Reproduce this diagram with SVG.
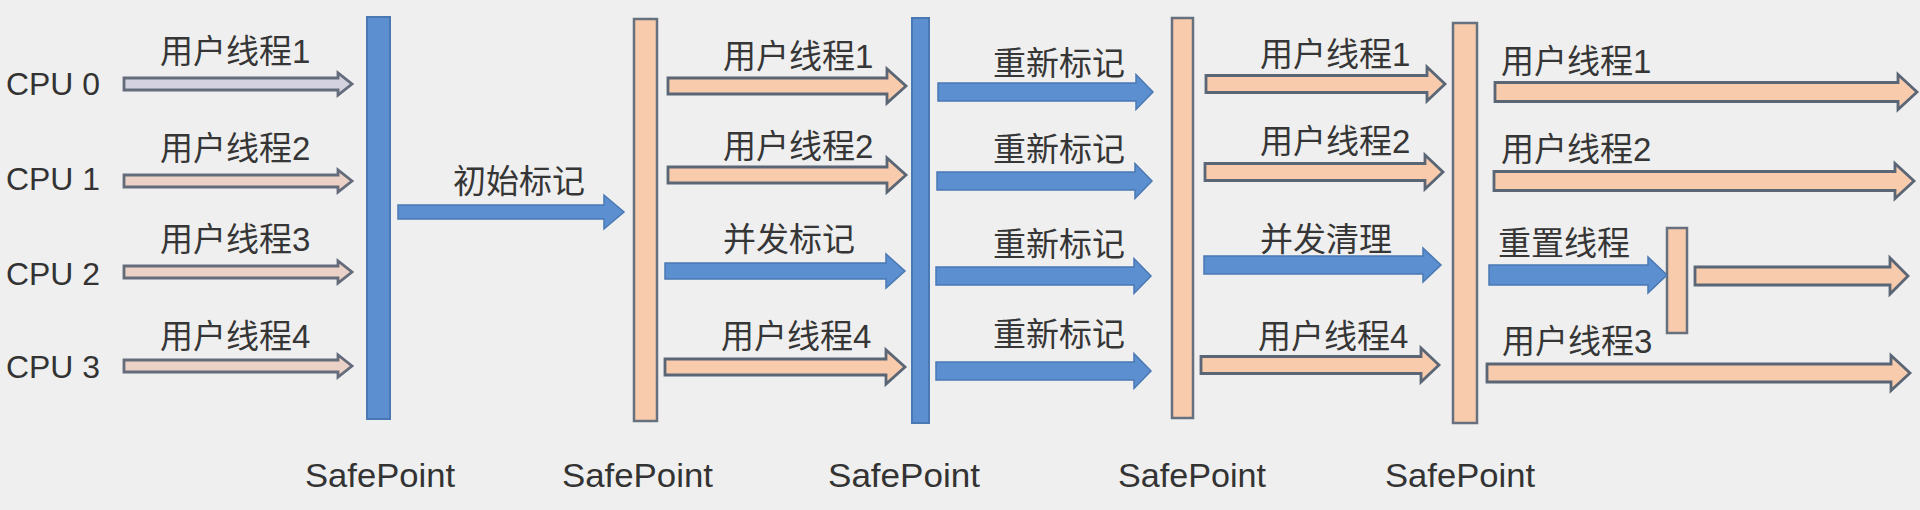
<svg xmlns="http://www.w3.org/2000/svg" width="1920" height="510" viewBox="0 0 1920 510">
<style>
.bg{fill:#efefef}
.lbl{font-family:"Liberation Sans","Noto Sans CJK SC",sans-serif;font-size:33px;fill:#363636}
.cpu{font-family:"Liberation Sans",sans-serif;font-size:32px;fill:#333}
.sp{font-family:"Liberation Sans",sans-serif;font-size:34px;fill:#333}
.barB{fill:#5b8fd0;stroke:#4a78b3;stroke-width:2}
.barP{fill:#f8cbad;stroke:#66707e;stroke-width:2.5}
.arB{fill:#5b8fd0;stroke:#4a78b3;stroke-width:1.5;stroke-linejoin:miter}
.arP{fill:#f8cbad;stroke:#5a6676;stroke-width:2.8;stroke-linejoin:miter}
.arG{fill:#d4d2e0;stroke:#646c7c;stroke-width:2.8;stroke-linejoin:miter}
.arL{fill:#ecd2c6;stroke:#646c7c;stroke-width:2.8;stroke-linejoin:miter}
</style>
<rect class="bg" x="0" y="0" width="1920" height="510"/>

<g id="cpu0"><text class="cpu" x="6" y="95" textLength="94" lengthAdjust="spacingAndGlyphs">CPU 0</text></g>
<g id="cpu1"><text class="cpu" x="6" y="190" textLength="94" lengthAdjust="spacingAndGlyphs">CPU 1</text></g>
<g id="cpu2"><text class="cpu" x="6" y="285" textLength="94" lengthAdjust="spacingAndGlyphs">CPU 2</text></g>
<g id="cpu3"><text class="cpu" x="6" y="378" textLength="94" lengthAdjust="spacingAndGlyphs">CPU 3</text></g>

<g id="safepoint1">
<rect class="barB" x="367" y="17" width="23" height="402"/>
<text class="sp" x="305" y="487" textLength="150" lengthAdjust="spacingAndGlyphs">SafePoint</text>
</g>
<g id="safepoint2">
<rect class="barP" x="634" y="19" width="23" height="402"/>
<text class="sp" x="562" y="487" textLength="151" lengthAdjust="spacingAndGlyphs">SafePoint</text>
</g>
<g id="safepoint3">
<rect class="barB" x="912" y="18" width="17" height="405"/>
<text class="sp" x="828" y="487" textLength="152" lengthAdjust="spacingAndGlyphs">SafePoint</text>
</g>
<g id="safepoint4">
<rect class="barP" x="1172" y="18" width="21" height="400"/>
<text class="sp" x="1118" y="487" textLength="148" lengthAdjust="spacingAndGlyphs">SafePoint</text>
</g>
<g id="safepoint5">
<rect class="barP" x="1453" y="23" width="24" height="400"/>
<text class="sp" x="1385" y="487" textLength="150" lengthAdjust="spacingAndGlyphs">SafePoint</text>
</g>
<g id="reset-point">
<rect class="barP" x="1667" y="228" width="20" height="105"/>
</g>

<g id="connectors">
<!-- column 0 -->
<path class="arG" d="M124 78 H338 V73 L352 84 L338 95 V90 H124 Z"/>
<path class="arL" d="M124 175 H338 V170 L352 181 L338 192 V187 H124 Z"/>
<path class="arL" d="M124 266 H338 V261 L352 272 L338 283 V278 H124 Z"/>
<path class="arL" d="M124 360 H338 V355 L352 366 L338 377 V372 H124 Z"/>
<text class="lbl" x="160" y="63">用户线程1</text>
<text class="lbl" x="160" y="160">用户线程2</text>
<text class="lbl" x="160" y="251">用户线程3</text>
<text class="lbl" x="160" y="348">用户线程4</text>
<!-- column 1 -->
<path class="arB" d="M398 205 H604 V195 L624 212 L604 229 V219 H398 Z"/>
<text class="lbl" x="453" y="193">初始标记</text>
<!-- column 2 -->
<path class="arP" d="M668 78 H887 V69 L906 86 L887 103 V94 H668 Z"/>
<path class="arP" d="M668 167 H887 V158 L906 175 L887 192 V183 H668 Z"/>
<path class="arB" d="M665 263 H886 V254 L905 271 L886 288 V279 H665 Z"/>
<path class="arP" d="M665 359 H886 V350 L905 367 L886 384 V375 H665 Z"/>
<text class="lbl" x="723" y="68">用户线程1</text>
<text class="lbl" x="723" y="158">用户线程2</text>
<text class="lbl" x="723" y="251">并发标记</text>
<text class="lbl" x="721" y="348">用户线程4</text>
<!-- column 3 -->
<path class="arB" d="M938 83 H1136 V74.5 L1153 92 L1136 109.5 V101 H938 Z"/>
<path class="arB" d="M937 172 H1135 V163.5 L1152 181 L1135 198.5 V190 H937 Z"/>
<path class="arB" d="M936 267 H1134 V258.5 L1151 276 L1134 293.5 V285 H936 Z"/>
<path class="arB" d="M936 362 H1134 V353.5 L1151 371 L1134 388.5 V380 H936 Z"/>
<text class="lbl" x="993" y="75">重新标记</text>
<text class="lbl" x="993" y="161">重新标记</text>
<text class="lbl" x="993" y="256">重新标记</text>
<text class="lbl" x="993" y="346">重新标记</text>
<!-- column 4 -->
<path class="arP" d="M1206 75.5 H1427 V67 L1445 84 L1427 101 V92.5 H1206 Z"/>
<path class="arP" d="M1205 163.5 H1425 V155 L1443 172 L1425 189 V180.5 H1205 Z"/>
<path class="arB" d="M1204 256 H1423 V248 L1441 265 L1423 282 V274 H1204 Z"/>
<path class="arP" d="M1201 356.5 H1421 V348 L1439 365 L1421 382 V373.5 H1201 Z"/>
<text class="lbl" x="1260" y="66">用户线程1</text>
<text class="lbl" x="1260" y="153">用户线程2</text>
<text class="lbl" x="1260" y="251">并发清理</text>
<text class="lbl" x="1258" y="348">用户线程4</text>
<!-- column 5 -->
<path class="arP" d="M1495 82.5 H1898 V74.5 L1917 92 L1898 109.5 V101.5 H1495 Z"/>
<path class="arP" d="M1494 171.5 H1895 V163.5 L1914 181 L1895 198.5 V190.5 H1494 Z"/>
<path class="arB" d="M1489 265 H1648 V257 L1667 275 L1648 293 V285 H1489 Z"/>
<path class="arP" d="M1695 267 H1890 V258 L1908 276 L1890 294 V285 H1695 Z"/>
<path class="arP" d="M1487 364 H1891 V355.5 L1910 373 L1891 390.5 V382 H1487 Z"/>
<text class="lbl" x="1501" y="73">用户线程1</text>
<text class="lbl" x="1501" y="161">用户线程2</text>
<text class="lbl" x="1498" y="255">重置线程</text>
<text class="lbl" x="1502" y="353">用户线程3</text>
</g>
</svg>
